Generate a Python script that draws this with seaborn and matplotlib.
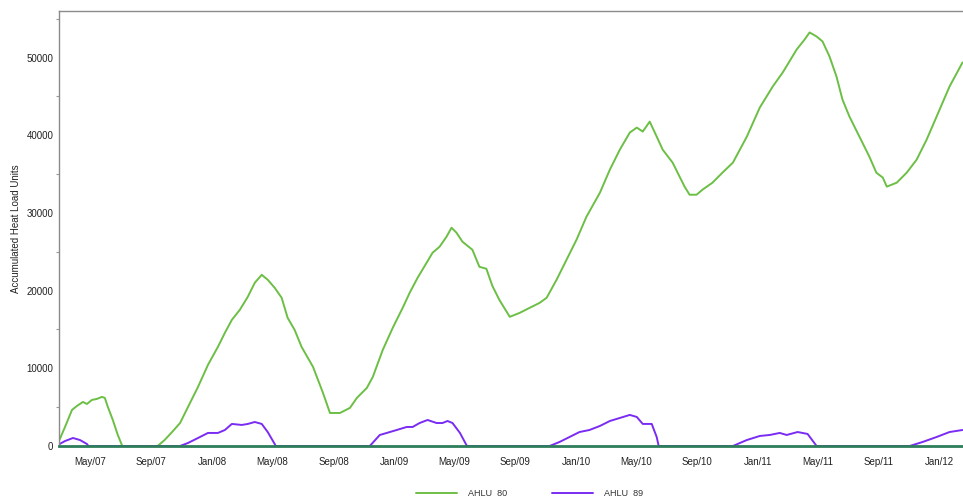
import matplotlib
matplotlib.use("Agg")
import matplotlib.pyplot as plt
import matplotlib.dates as mdates
from matplotlib.ticker import MultipleLocator
import pandas as pd
import seaborn as sns

# Accumulated heat load, herd AHLU 80
ahlu80_dates = [
    "2007-03-01", "2007-03-12", "2007-03-26", "2007-04-05", "2007-04-17", "2007-04-25",
    "2007-05-05", "2007-05-15", "2007-05-25", "2007-05-31", "2007-06-06", "2007-06-16",
    "2007-06-26", "2007-07-05", "2007-09-14", "2007-09-28", "2007-10-13", "2007-10-29",
    "2007-11-14", "2007-12-04", "2007-12-24", "2008-01-13", "2008-01-27", "2008-02-10",
    "2008-02-26", "2008-03-13", "2008-03-27", "2008-04-10", "2008-04-22", "2008-05-06",
    "2008-05-20", "2008-06-01", "2008-06-15", "2008-06-29", "2008-07-22", "2008-08-11",
    "2008-08-25", "2008-09-14", "2008-10-04", "2008-10-18", "2008-11-07", "2008-11-19",
    "2008-12-09", "2008-12-29", "2009-01-18", "2009-02-01", "2009-02-17", "2009-03-07",
    "2009-03-19", "2009-04-02", "2009-04-16", "2009-04-26", "2009-05-06", "2009-05-18",
    "2009-06-07", "2009-06-21", "2009-07-05", "2009-07-17", "2009-07-31", "2009-08-21",
    "2009-09-10", "2009-09-30", "2009-10-20", "2009-11-03", "2009-11-23", "2009-12-13",
    "2010-01-02", "2010-01-22", "2010-02-18", "2010-03-10", "2010-03-30", "2010-04-19",
    "2010-05-03", "2010-05-15", "2010-05-29", "2010-06-12", "2010-06-24", "2010-07-14",
    "2010-07-28", "2010-08-07", "2010-08-17", "2010-08-31", "2010-09-12", "2010-10-02",
    "2010-10-22", "2010-11-12", "2010-12-10", "2011-01-05", "2011-01-31", "2011-02-20",
    "2011-03-20", "2011-04-05", "2011-04-15", "2011-04-29", "2011-05-11", "2011-05-25",
    "2011-06-08", "2011-06-20", "2011-07-04", "2011-07-24", "2011-08-13", "2011-08-27",
    "2011-09-09", "2011-09-17", "2011-10-07", "2011-10-27", "2011-11-16", "2011-12-06",
    "2011-12-26", "2012-01-21", "2012-02-16",
]
ahlu80_values = [
    800, 2450, 4640, 5160, 5670, 5410,
    5930, 6060, 6320, 6190, 5030, 3350,
    1420, 0, 0, 770, 1800, 2960,
    5030, 7600, 10440, 12760, 14570, 16240,
    17530, 19210, 21010, 22040, 21400, 20370,
    19080, 16500, 14950, 12760, 10180, 6830,
    4250, 4250, 4900, 6190, 7480, 8890,
    12370, 15210, 17790, 19720, 21660, 23590,
    24880, 25650, 26940, 28100, 27460, 26300,
    25260, 23070, 22820, 20620, 18820, 16630,
    17140, 17790, 18430, 19080, 21400, 23980,
    26550, 29520, 32610, 35580, 38150, 40350,
    40990, 40480, 41760, 39830, 38150, 36480,
    34670, 33390, 32350, 32350, 33000, 33900,
    35190, 36480, 39830, 43570, 46280, 48080,
    51040, 52330, 53240, 52720, 52080, 50140,
    47560, 44600, 42410, 39830, 37250, 35190,
    34550, 33390, 33900, 35190, 36870, 39440,
    42410, 46280, 49370,
]

# Accumulated heat load, herd AHLU 89
ahlu89_dates = [
    "2007-03-01", "2007-03-12", "2007-03-28", "2007-04-11", "2007-04-25", "2007-04-28",
    "2007-10-29", "2007-11-14", "2007-12-04", "2007-12-24", "2008-01-13", "2008-01-27",
    "2008-02-10", "2008-03-01", "2008-03-13", "2008-03-27", "2008-04-10", "2008-04-22",
    "2008-05-06", "2008-05-08", "2008-11-13", "2008-12-03", "2008-12-17", "2009-01-06",
    "2009-01-26", "2009-02-07", "2009-02-21", "2009-03-09", "2009-03-27", "2009-04-08",
    "2009-04-18", "2009-04-28", "2009-05-13", "2009-05-27", "2009-11-09", "2009-11-29",
    "2009-12-19", "2010-01-08", "2010-01-28", "2010-02-18", "2010-03-10", "2010-03-30",
    "2010-04-19", "2010-05-03", "2010-05-15", "2010-06-02", "2010-06-12", "2010-06-16",
    "2010-11-12", "2010-12-10", "2011-01-05", "2011-01-25", "2011-02-14", "2011-02-28",
    "2011-03-22", "2011-04-11", "2011-04-29", "2011-11-02", "2011-11-28", "2011-12-26",
    "2012-01-21", "2012-02-16",
]
ahlu89_values = [
    250, 640, 1030, 770, 260, 0,
    0, 390, 1030, 1680, 1680, 2060,
    2840, 2710, 2840, 3090, 2840, 1800,
    260, 0, 0, 1420, 1680, 2060,
    2450, 2450, 2960, 3350, 2960, 2960,
    3220, 2960, 1680, 0, 0, 520,
    1160, 1800, 2060, 2580, 3220, 3610,
    4000, 3740, 2840, 2840, 1160, 0,
    0, 770, 1290, 1420, 1680, 1420,
    1800, 1550, 0, 0, 520, 1160,
    1800, 2060,
]

series_names = ["AHLU  80", "AHLU  89"]
series_colors = ["#6cbf45", "#7a2cf2"]

df = pd.concat([
    pd.DataFrame({"date": pd.to_datetime(ahlu80_dates), "value": ahlu80_values,
                  "series": series_names[0]}),
    pd.DataFrame({"date": pd.to_datetime(ahlu89_dates), "value": ahlu89_values,
                  "series": series_names[1]}),
], ignore_index=True)

sns.set_theme(style="white")
plt.rcParams["font.family"] = ["Liberation Sans", "DejaVu Sans"]

fig = plt.figure(figsize=(9.63, 5.0), dpi=100)
ax = fig.add_axes([0.0613, 0.108, 0.9387, 0.870])

sns.lineplot(data=df, x="date", y="value", hue="series",
             palette=dict(zip(series_names, series_colors)),
             linewidth=1.4, legend=False, ax=ax, estimator=None, sort=False)

ax.set_xlim(pd.Timestamp("2007-02-28"), pd.Timestamp("2012-02-17"))
ax.set_ylim(0, 56000)

ax.xaxis.set_major_locator(mdates.MonthLocator(bymonth=[1, 5, 9]))
ax.xaxis.set_major_formatter(mdates.DateFormatter("%b/%y"))
ax.yaxis.set_major_locator(MultipleLocator(10000))
ax.yaxis.set_minor_locator(MultipleLocator(5000))

ax.tick_params(axis="both", which="both", direction="out", colors="#999999",
               labelcolor="#222222", labelsize=7)
ax.tick_params(axis="y", which="major", length=3, width=0.8, pad=1)
ax.tick_params(axis="y", which="minor", length=2, width=0.8, left=True)
ax.tick_params(axis="x", which="major", length=3, width=0.8, pad=5)

ax.set_xlabel("")
ax.set_ylabel("Accumulated Heat Load Units", fontsize=7, color="#222222", labelpad=4)

for side in ("left", "top"):
    ax.spines[side].set_color("#8a8a8a")
    ax.spines[side].set_linewidth(1.0)
ax.spines["right"].set_visible(False)
ax.spines["bottom"].set_color("#2e7d5b")
ax.spines["bottom"].set_linewidth(2.0)
ax.spines["bottom"].set_zorder(5)

handles = ax.get_lines()[:2]
fig.legend(handles, series_names, loc="center", bbox_to_anchor=(0.55, 0.012),
           ncol=2, frameon=False, fontsize=6.5, handlelength=4.5,
           columnspacing=5, handletextpad=1.2, labelcolor="#333333")

fig.savefig("out.png", dpi=100)
